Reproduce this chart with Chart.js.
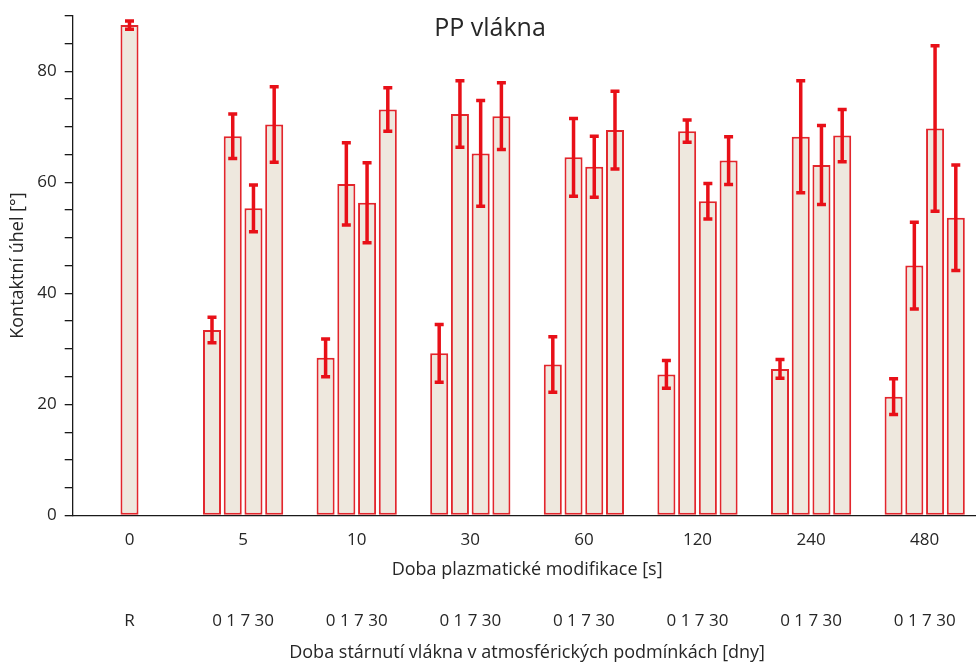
<!DOCTYPE html>
<html>
<head>
<meta charset="utf-8">
<script src="https://cdn.jsdelivr.net/npm/chart.js@4"></script>
<style>
    html, body { margin: 0; padding: 0; background: #fff; overflow: hidden; }
    #wrap { width: 983px; height: 664px; }
</style>
</head>
<body>
<div id="wrap"><canvas id="myChart"></canvas></div>
<script>
// plasma treatment time [s] and ageing time labels [days]
const plasmaTimes = ['0', '5', '10', '30', '60', '120', '240', '480'];
const agingLabels = ['R', '0 1 7 30', '0 1 7 30', '0 1 7 30', '0 1 7 30', '0 1 7 30', '0 1 7 30', '0 1 7 30'];

// contact angle [°] and standard deviation
const refAngle = [88.3, null, null, null, null, null, null, null];
const refErr = [0.75, null, null, null, null, null, null, null];
const day0 = [null, 33.4, 28.4, 29.2, 27.2, 25.4, 26.4, 21.4];
const day0Err = [null, 2.3, 3.4, 5.2, 5.0, 2.5, 1.7, 3.2];
const day1 = [null, 68.3, 59.7, 72.3, 64.5, 69.2, 68.2, 45.0];
const day1Err = [null, 4.0, 7.4, 6.0, 7.0, 2.0, 10.1, 7.8];
const day7 = [null, 55.3, 56.3, 65.2, 62.8, 56.6, 63.1, 69.7];
const day7Err = [null, 4.2, 7.2, 9.5, 5.5, 3.2, 7.1, 14.9];
const day30 = [null, 70.4, 73.1, 71.9, 69.4, 63.9, 68.4, 53.6];
const day30Err = [null, 6.8, 3.9, 6.0, 7.0, 4.3, 4.7, 9.5];

const fillColor = 'rgb(238, 232, 222)';
const edgeColor = 'rgb(226, 38, 44)';
const errColor = 'rgb(232, 16, 24)';
const textColor = '#262626';
const fontFamily = '"Open Sans", sans-serif';

const makeSet = (label, data, errors, catPct) => ({
    label,
    data,
    errors,
    backgroundColor: fillColor,
    borderColor: edgeColor,
    borderWidth: 2,
    borderSkipped: false,
    categoryPercentage: catPct,
    barPercentage: 0.87,
    skipNull: true,
});

// whiskers drawn on top of every bar
const errorBars = {
    id: 'errorBars',
    afterDatasetsDraw(chart) {
        const ctx = chart.ctx;
        const yScale = chart.scales.y;
        ctx.save();
        ctx.strokeStyle = errColor;
        ctx.lineCap = 'butt';
        ctx.lineWidth = 3.5;
        chart.data.datasets.forEach((ds, i) => {
            const meta = chart.getDatasetMeta(i);
            meta.data.forEach((bar, j) => {
                const v = ds.data[j];
                const e = ds.errors[j];
                if (v == null || e == null) return;
                const x = bar.x;
                const yHi = yScale.getPixelForValue(v + e);
                const yLo = yScale.getPixelForValue(v - e);
                ctx.beginPath();
                ctx.moveTo(x, yHi);
                ctx.lineTo(x, yLo);
                ctx.moveTo(x - 4.5, yHi);
                ctx.lineTo(x + 4.5, yHi);
                ctx.moveTo(x - 4.5, yLo);
                ctx.lineTo(x + 4.5, yLo);
                ctx.stroke();
            });
        });
        ctx.restore();
    }
};

// chart heading sits inside the plot area
const heading = {
    id: 'heading',
    afterDraw(chart) {
        const ctx = chart.ctx;
        ctx.save();
        ctx.fillStyle = textColor;
        ctx.font = '25px ' + fontFamily;
        ctx.textAlign = 'center';
        ctx.textBaseline = 'alphabetic';
        ctx.fillText('PP vlákna', 490, 36);
        ctx.restore();
    }
};

const ctx = document.querySelector('#myChart');

chart = new Chart(ctx, {
    type: 'bar',
    data: {
        labels: plasmaTimes,
        datasets: [
            makeSet('R', refAngle, refErr, 0.73 / 4),
            makeSet('0', day0, day0Err, 0.73),
            makeSet('1', day1, day1Err, 0.73),
            makeSet('7', day7, day7Err, 0.73),
            makeSet('30', day30, day30Err, 0.73),
        ],
    },
    options: {
        responsive: true,
        maintainAspectRatio: false,
        animation: false,
        layout: {
            padding: { top: 0, right: 1.5, bottom: 0, left: 0 }
        },
        scales: {
            x: {
                type: 'category',
                position: 'bottom',
                weight: 0,
                offset: true,
                grid: { display: true, drawOnChartArea: false, drawTicks: false },
                border: { display: true, color: '#1a1a1a', width: 1.3 },
                ticks: {
                    color: textColor,
                    padding: 14,
                    font: { family: fontFamily, size: 17 },
                    maxRotation: 0,
                    autoSkip: false,
                },
                title: {
                    display: true,
                    text: 'Doba plazmatické modifikace [s]',
                    color: textColor,
                    font: { family: fontFamily, size: 18 },
                    padding: { top: 0, bottom: 0 },
                },
                afterFit: (scale) => { scale.height = 65; },
            },
            x2: {
                type: 'category',
                position: 'bottom',
                weight: 1,
                offset: true,
                labels: agingLabels,
                grid: { display: false },
                border: { display: false },
                ticks: {
                    color: textColor,
                    padding: 22,
                    font: { family: fontFamily, size: 17 },
                    maxRotation: 0,
                    autoSkip: false,
                },
                title: {
                    display: true,
                    text: 'Doba stárnutí vlákna v atmosférických podmínkách [dny]',
                    color: textColor,
                    font: { family: fontFamily, size: 18 },
                    padding: { top: 0, bottom: 0 },
                },
                afterFit: (scale) => { scale.height = 83.5; },
            },
            y: {
                min: 0,
                max: 90,
                grid: { display: true, drawOnChartArea: false, tickLength: 8, color: '#1a1a1a', lineWidth: 1.3 },
                border: { display: true, color: '#1a1a1a', width: 1.3 },
                ticks: {
                    stepSize: 5,
                    maxTicksLimit: 20,
                    autoSkip: false,
                    padding: 8,
                    color: textColor,
                    // lineHeight sets the space kept above the top tick
                    font: { family: fontFamily, size: 17, lineHeight: 0.9 },
                    callback: (value) => (value % 20 === 0 ? value : ''),
                },
                title: {
                    display: true,
                    text: 'Kontaktní úhel [°]',
                    color: textColor,
                    font: { family: fontFamily, size: 18 },
                    padding: { top: 7, bottom: 0 },
                },
                afterFit: (scale) => { scale.width = 72.7; },
            },
        },
        plugins: {
            legend: { display: false },
            tooltip: { enabled: false },
        }
    },
    plugins: [errorBars, heading]
});
</script>
</body>
</html>
